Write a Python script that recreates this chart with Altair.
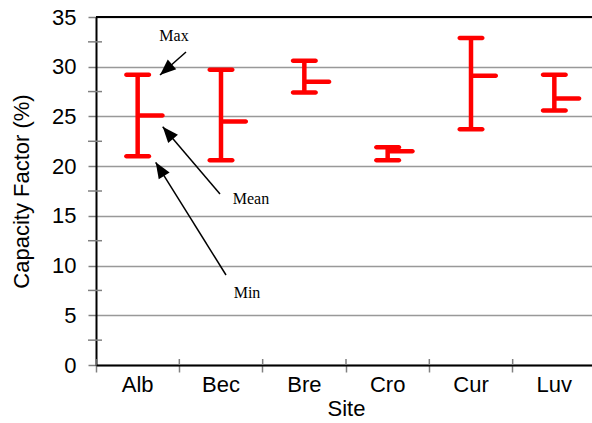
import altair as alt
import pandas as pd

sites = ["Alb", "Bec", "Bre", "Cro", "Cur", "Luv"]
cf_min = [21.0, 20.6, 27.4, 20.6, 23.7, 25.6]
cf_mean = [25.1, 24.5, 28.5, 21.5, 29.1, 26.8]
cf_max = [29.2, 29.7, 30.6, 21.9, 32.9, 29.2]

major_ticks = [0, 5, 10, 15, 20, 25, 30, 35]
minor_ticks = [2.5, 7.5, 12.5, 17.5, 22.5, 27.5, 32.5]

# annotation labels and arrows (pixel positions inside the plot area)
ann_text = ["Max", "Mean", "Min"]
ann_tx = [78, 155, 151]
ann_ty = [19, 182, 276]
arrow_tail_x = [90, 124, 130]
arrow_tail_y = [35, 177, 258]
arrow_tip_x = [64, 66.7, 59.7]
arrow_tip_y = [58, 109.7, 145.3]
arrow_angle = [228.5, 319.6, 328]

df = pd.DataFrame({"site": sites, "cf_min": cf_min, "cf_mean": cf_mean, "cf_max": cf_max})
minor_df = pd.DataFrame({"v": minor_ticks})

RED = "#ff0000"
FONT = "Liberation Sans"
X_TITLE = "Site"
Y_TITLE = "Capacity Factor (%)"

x_scale = alt.Scale(domain=sites, range=[0, 500], paddingInner=0, paddingOuter=0)
y_scale = alt.Scale(domain=[0, 35], nice=False)

x_axis = alt.Axis(
    bandPosition=0, labelAngle=0, labelFont=FONT, labelFontSize=22, labelColor="black",
    labelPadding=2, tickColor="#808080", tickSize=7, tickWidth=1.5,
    domainColor="black", domainWidth=2, titleFont=FONT, titleFontSize=22,
    titleFontWeight="normal", titleColor="black", titlePadding=3,
)
y_axis = alt.Axis(
    values=major_ticks, labelFont=FONT, labelFontSize=22, labelColor="black",
    labelPadding=12, tickColor="#808080", tickSize=8, tickWidth=1.5,
    domainColor="black", domainWidth=2, grid=True, gridColor="#999999", gridWidth=1.5,
    titleFont=FONT, titleFontSize=22, titleFontWeight="normal", titleColor="black",
    titlePadding=18,
)


def X():
    return alt.X("site:N", scale=x_scale, sort=sites, title=X_TITLE, axis=x_axis)


def Y(field):
    return alt.Y(field, scale=y_scale, title=Y_TITLE, axis=y_axis)


base = alt.Chart(df)

ranges = base.mark_rule(color=RED, strokeWidth=4.5).encode(
    x=X(), y=Y("cf_min:Q"), y2="cf_max:Q"
)
tick_style = dict(color=RED, size=27, thickness=4.5, cornerRadius=2.25, opacity=1)
min_caps = base.mark_tick(**tick_style).encode(x=X(), y=Y("cf_min:Q"))
max_caps = base.mark_tick(**tick_style).encode(x=X(), y=Y("cf_max:Q"))
mean_ticks = base.mark_tick(xOffset=13.5, **tick_style).encode(x=X(), y=Y("cf_mean:Q"))

# inner parts of x boundary ticks
x_inner = base.mark_rule(color="#808080", strokeWidth=1.5, xOffset=-500 / 12).encode(
    x=X(), y=alt.value(342), y2=alt.value(348)
)
# minor y ticks crossing the axis
minor = alt.Chart(minor_df).mark_rule(color="#808080", strokeWidth=1.5).encode(
    y=Y("v:Q"), x=alt.value(-8), x2=alt.value(6)
)
top_line = alt.Chart(minor_df).mark_rule(color="black", strokeWidth=2).encode(
    y=alt.value(0)
)

ann_df = pd.DataFrame({"t": ann_text})
ann_layers = []
for i in range(len(ann_text)):
    one = alt.Chart(ann_df.iloc[[i]])
    ann_layers.append(one.mark_text(font="Liberation Serif", fontSize=16, color="black",
                                    baseline="middle", align="center").encode(
        x=alt.value(ann_tx[i]), y=alt.value(ann_ty[i]), text="t:N"))
    ann_layers.append(one.mark_rule(color="black", strokeWidth=1.5).encode(
        x=alt.value(arrow_tail_x[i]), y=alt.value(arrow_tail_y[i]),
        x2=alt.value(arrow_tip_x[i]), y2=alt.value(arrow_tip_y[i])))
    ann_layers.append(one.mark_point(shape="M0,0L0.8,2L-0.8,2Z", filled=True, fill="black",
                                     opacity=1, size=256, angle=arrow_angle[i], strokeWidth=0).encode(
        x=alt.value(arrow_tip_x[i]), y=alt.value(arrow_tip_y[i])))

chart = alt.layer(
    minor, ranges, min_caps, max_caps, mean_ticks, x_inner, top_line, *ann_layers
).properties(
    width=496, height=348,
    autosize=alt.AutoSizeParams(type="none"),
    padding={"left": 96, "top": 17, "right": 0, "bottom": 58},
).configure_view(stroke=None).configure(background="white")

chart.save("out.html", embed_options={"renderer": "svg", "actions": False})
